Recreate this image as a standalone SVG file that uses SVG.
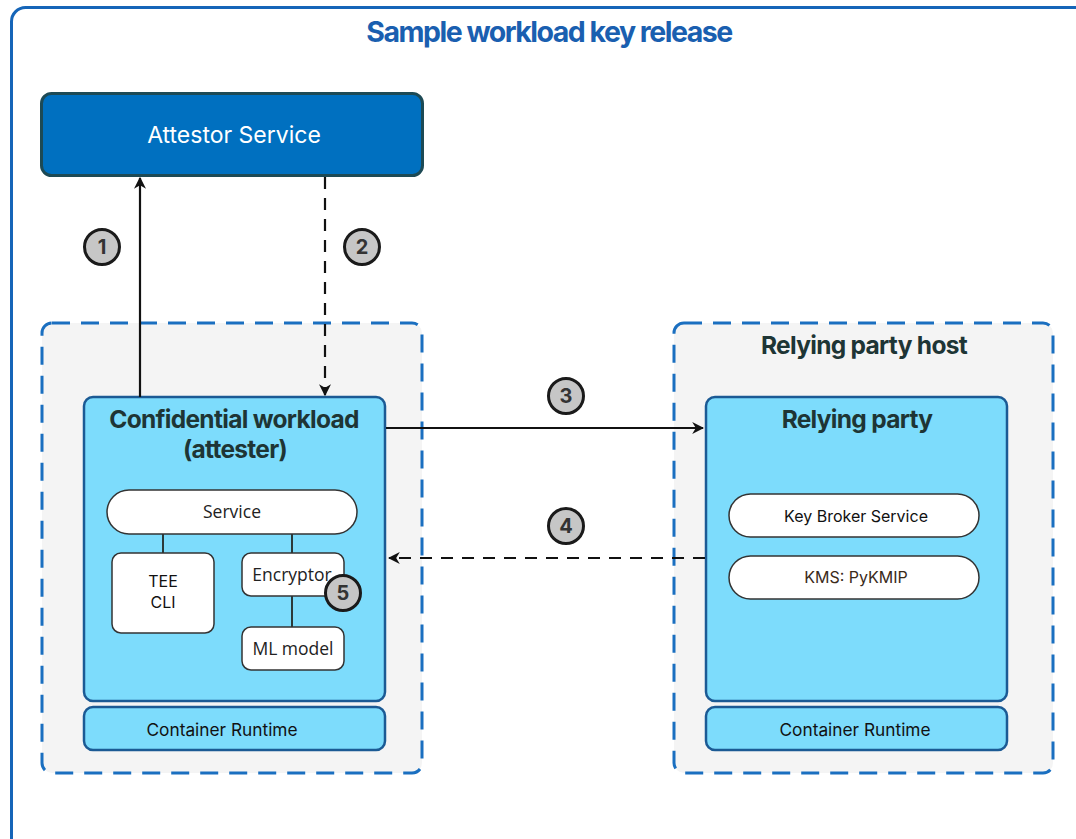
<svg xmlns="http://www.w3.org/2000/svg" width="1076" height="839" viewBox="0 0 1076 839">
  <style>
    .frame { fill: #ffffff; stroke: #1565b8; stroke-width: 3; }
    .host { fill: #f4f4f4; stroke: #1a6fc0; stroke-width: 3; stroke-dasharray: 18 11; }
    .svc { fill: #0070c0; stroke: #1d4a55; stroke-width: 3; }
    .box { fill: #7ddcfc; stroke: #1b5a94; stroke-width: 2.5; }
    .wbox { fill: #ffffff; stroke: #333333; stroke-width: 1.5; }
    .link { stroke: #2b3a3a; stroke-width: 2; fill: none; }
    .conn { stroke: #111111; stroke-width: 2.2; fill: none; }
    .dash { stroke-dasharray: 12 9; }
    .step circle { fill: #c6c6c6; stroke: #1a1a1a; stroke-width: 3; }
    .step text { font-family: Inter, "Liberation Sans", sans-serif; font-weight: 700; font-size: 20px; fill: #333; text-anchor: middle; }
    .title { font-family: Inter, "Liberation Sans", sans-serif; font-weight: 700; font-size: 24.5px; fill: #1e3535; text-anchor: middle; letter-spacing: -0.7px; }
    .lbl { font-family: Inter, "Liberation Sans", sans-serif; font-size: 16px; fill: #111; text-anchor: middle; }
    .lbl2 { font-family: "Open Sans", "Liberation Sans", sans-serif; font-size: 17.5px; fill: #222; text-anchor: middle; }
    .rt { font-size: 17.3px; }
  </style>
  <defs>
    <marker id="arrowL" viewBox="0 0 10 10" refX="9" refY="5" markerWidth="12" markerHeight="12" orient="auto" markerUnits="userSpaceOnUse">
      <path d="M0,0 L10,5 L0,10 L3,5 Z" fill="#111"/>
    </marker>
  </defs>

  <!-- outer frame -->
  <rect class="frame" x="11.5" y="7.5" width="1090" height="860" rx="14"/>
  <text x="549" y="42" font-family="Inter, 'Liberation Sans', sans-serif" font-weight="700" font-size="28.5" fill="#1a5fb0" text-anchor="middle" letter-spacing="-1.5">Sample workload key release</text>

  <!-- host areas -->
  <g id="attester-host">
    <rect class="host" x="42" y="323" width="380" height="450" rx="10"/>
  </g>
  <g id="relying-party-host">
    <rect class="host" x="674" y="323" width="379" height="450" rx="10"/>
    <text class="title" x="864" y="354">Relying party host</text>
  </g>

  <g id="attestor-service">
    <rect class="svc" x="41.5" y="93.5" width="381" height="82" rx="10"/>
    <text x="234" y="143" font-family="Inter, 'Liberation Sans', sans-serif" font-size="23" fill="#ffffff" text-anchor="middle">Attestor Service</text>
  </g>

  <g id="confidential-workload">
    <rect class="box" x="84" y="397" width="301" height="304" rx="9"/>
    <text class="title" x="234" y="428">Confidential workload</text>
    <text class="title" x="235" y="458">(attester)</text>
  </g>

  <g id="service">
    <line class="link" x1="163" y1="534" x2="163" y2="553"/>
    <line class="link" x1="292" y1="534" x2="292" y2="553"/>
    <line class="link" x1="292" y1="596" x2="292" y2="627"/>
    <rect class="wbox" x="107" y="490" width="250" height="44" rx="22"/>
    <text class="lbl2" x="232" y="518">Service</text>
  </g>

  <g id="tee-cli">
    <rect class="wbox" x="112" y="553" width="102" height="80" rx="9"/>
    <text class="lbl" x="163" y="587">TEE</text>
    <text class="lbl" x="163" y="608">CLI</text>
  </g>

  <g id="encryptor">
    <rect class="wbox" x="242" y="553" width="102" height="43" rx="9"/>
    <text class="lbl2" x="292" y="581">Encryptor</text>
  </g>

  <g id="ml-model">
    <rect class="wbox" x="242" y="627" width="102" height="43" rx="9"/>
    <text class="lbl2" x="293" y="655">ML model</text>
  </g>

  <g id="container-runtime-left">
    <rect class="box" x="84" y="707" width="301" height="43" rx="9"/>
    <text class="lbl rt" x="222" y="736">Container Runtime</text>
  </g>

  <g id="relying-party">
    <rect class="box" x="706" y="397" width="301" height="304" rx="9"/>
    <text class="title" x="857" y="428">Relying party</text>
  </g>

  <g id="key-broker-service">
    <rect class="wbox" x="729" y="494" width="250" height="43" rx="21.5"/>
    <text class="lbl" x="856" y="522">Key Broker Service</text>
  </g>

  <g id="kms-pykmip">
    <rect class="wbox" x="729" y="556" width="250" height="43" rx="21.5"/>
    <text class="lbl" x="856" y="583" style="fill:#3a2a1a">KMS:  PyKMIP</text>
  </g>

  <g id="container-runtime-right">
    <rect class="box" x="706" y="707" width="301" height="43" rx="9"/>
    <text class="lbl rt" x="855" y="736">Container Runtime</text>
  </g>

  <!-- connectors -->
  <g id="connectors">
    <line class="conn" x1="140" y1="397" x2="140" y2="178" marker-end="url(#arrowL)"/>
    <line class="conn dash" x1="325" y1="177" x2="325" y2="395" marker-end="url(#arrowL)"/>
    <line class="conn" x1="386" y1="428" x2="703" y2="428" marker-end="url(#arrowL)"/>
    <line class="conn dash" x1="705" y1="558" x2="389" y2="558" marker-end="url(#arrowL)"/>
  </g>

  <!-- step badges -->
  <g id="step-1" class="step"><circle cx="102" cy="247" r="17.5"/><text x="102" y="254">1</text></g>
  <g id="step-2" class="step"><circle cx="362" cy="247" r="17.5"/><text x="362" y="254">2</text></g>
  <g id="step-3" class="step"><circle cx="566" cy="396" r="17.5"/><text x="566" y="403">3</text></g>
  <g id="step-4" class="step"><circle cx="566" cy="526" r="17.5"/><text x="566" y="533">4</text></g>
  <g id="step-5" class="step"><circle cx="343" cy="593" r="17.5"/><text x="343" y="600">5</text></g>
</svg>
